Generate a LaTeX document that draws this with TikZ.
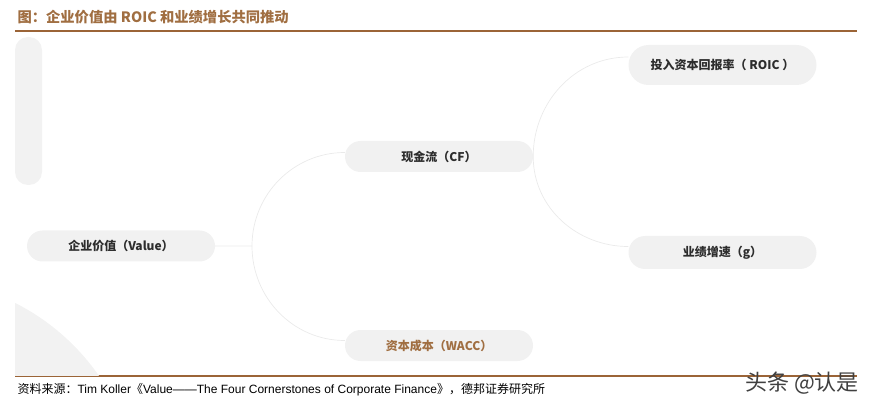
\documentclass[tikz,border=0pt]{standalone}
\usepackage{fontspec}
\setmainfont{Liberation Sans}
\newfontfamily\cjk{Noto Sans CJK SC}
\usetikzlibrary{positioning,shapes.misc}
\definecolor{brownrule}{RGB}{155,100,55}
\definecolor{browntext}{RGB}{160,110,65}
\definecolor{pillgray}{RGB}{241,241,241}
\definecolor{decogray}{RGB}{242,242,242}
\definecolor{linkgray}{RGB}{234,234,234}
\definecolor{textdark}{RGB}{45,45,45}
\tikzset{
    pill/.style={
    rounded rectangle,fill=pillgray,minimum width=188pt,minimum height=31pt,
    inner sep=0pt,font=\cjk\bfseries\fontsize{12}{14}\selectfont,text=textdark
    },
    tallpill/.style={
    pill,minimum height=40pt
    },
    link/.style={
    draw=linkgray,line width=0.7pt
    },
}
\begin{document}
\begin{tikzpicture}[x=1pt, y=-1pt]
   \useasboundingbox (0,0) rectangle (873,406);

   %title and rules
   \node[anchor=west,font=\cjk\bfseries\fontsize{14.3}{16}\selectfont,text=browntext] (title) at (14,17) {图：企业价值由 ROIC 和业绩增长共同推动};
   \draw[brownrule,line width=1.3pt] (15,31) -- (857,31);
   \draw[brownrule,line width=2pt] (15,376) -- (857,376);

   %background shapes
   \fill[decogray,rounded corners=13pt] (15,37) rectangle (42,185);
   \begin{scope}
     \clip (15,32) rectangle (857,375);
     \fill[decogray] (-86,504) circle (225);
   \end{scope}

   %nodes
   \node[pill] (value) at (121,246) {企业价值（Value）};
   \node[pill] (cf) at (439,156.5) {现金流（CF）};
   \node[pill,text=browntext] (wacc) at (439,345.5) {资本成本（WACC）};
   \node[tallpill] (roic) at (722.5,65) {投入资本回报率（ ROIC ）};
   \node[pill,minimum height=33pt] (g) at (722.5,252.5) {业绩增速（g）};

   %connectors
   \coordinate (vj) at (252,246);
   \draw[link] (value) -- (vj);
   \draw[link] ([yshift=4pt]cf.west) to[out=180,in=90] (vj)
               to[out=-90,in=180] ([yshift=5pt]wacc.west);
   \draw[link] ([yshift=8pt]roic.west) to[out=180,in=90] (cf.east)
               to[out=-90,in=180] ([yshift=6pt]g.west);

   %source and mark
   \node[anchor=west,font=\fontsize{12}{14}\selectfont,text=black] (source) at (14,390)
     {{\cjk 资料来源：}Tim Koller{\cjk 《}Value——The Four Cornerstones of Corporate Finance{\cjk 》，德邦证券研究所}};
   \node[font=\cjk\fontsize{22}{24}\selectfont,text=black!75] (mark) at (802,383) {头条 @认是};
\end{tikzpicture}
\end{document}
